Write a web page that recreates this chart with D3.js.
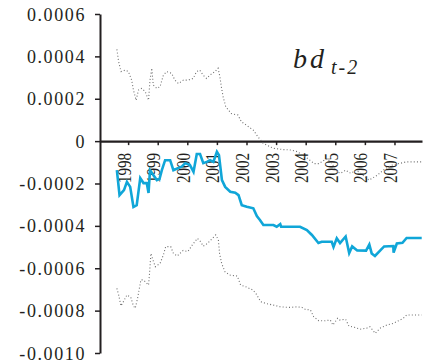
<!DOCTYPE html>
<html>
<head>
<meta charset="utf-8">
<script src="https://cdn.jsdelivr.net/npm/d3@7"></script>
<style>
  html, body { margin: 0; padding: 0; background: #fff; }
</style>
</head>
<body>
<svg id="chart" width="425" height="362"></svg>
<script>
// Time-varying coefficient of bd(t-2) with its confidence bands (decimal years).
const estDates = [1997.62,1997.71,1997.86,1997.96,1998.07,1998.18,1998.29,1998.41,1998.52,1998.63,1998.69,1998.74,1998.85,1998.97,1999.06,1999.14,1999.25,1999.42,1999.53,1999.70,1999.81,1999.93,2000.09,2000.21,2000.32,2000.43,2000.54,2000.66,2000.77,2000.88,2001.00,2001.07,2001.17,2001.28,2001.45,2001.62,2001.73,2001.84,2002.01,2002.23,2002.35,2002.46,2002.57,2002.91,2003.02,2003.14,2003.17,2003.81,2004.04,2004.21,2004.43,2004.54,2004.88,2004.94,2005.05,2005.16,2005.35,2005.47,2005.57,2005.74,2006.04,2006.15,2006.23,2006.34,2006.53,2006.65,2006.96,2006.97,2007.08,2007.27,2007.41,2007.92];
const estimate = [-0.000137,-0.000255,-0.000231,-0.000192,-0.000216,-0.000311,-0.000302,-0.000175,-0.000198,-0.000198,-0.000245,-0.000137,-0.000160,-0.000184,-0.000179,-0.000137,-0.000090,-0.000090,-0.000137,-0.000127,-0.000121,-0.000104,-0.000113,-0.000145,-0.000061,-0.000061,-0.000104,-0.000098,-0.000090,-0.000098,-0.000050,-0.000066,-0.000184,-0.000216,-0.000239,-0.000243,-0.000255,-0.000302,-0.000310,-0.000317,-0.000354,-0.000373,-0.000396,-0.000396,-0.000404,-0.000392,-0.000404,-0.000404,-0.000420,-0.000443,-0.000481,-0.000475,-0.000475,-0.000499,-0.000459,-0.000481,-0.000450,-0.000528,-0.000497,-0.000516,-0.000517,-0.000488,-0.000530,-0.000542,-0.000514,-0.000497,-0.000495,-0.000526,-0.000483,-0.000480,-0.000457,-0.000457];

const upperDates = [1997.62,1997.68,1997.76,1997.90,1998.01,1998.12,1998.18,1998.27,1998.35,1998.46,1998.58,1998.69,1998.74,1998.80,1998.85,1998.97,1999.08,1999.19,1999.30,1999.47,1999.58,1999.70,1999.87,2000.03,2000.20,2000.31,2000.42,2000.54,2000.65,2000.76,2000.93,2001.04,2001.10,2001.15,2001.21,2001.30,2001.49,2001.71,2001.83,2002.00,2002.23,2002.39,2002.57,2002.91,2003.25,2003.52,2003.72,2003.89,2004.00,2004.29,2004.45,2004.62,2004.68,2004.85,2005.07,2005.18,2005.35,2005.52,2005.70,2005.86,2006.14,2006.42,2006.70,2006.93,2007.15,2007.40,2007.92];
const upper = [0.000433,0.000375,0.000328,0.000335,0.000328,0.000288,0.000241,0.000193,0.000241,0.000249,0.000233,0.000193,0.000288,0.000344,0.000265,0.000249,0.000257,0.000311,0.000328,0.000320,0.000288,0.000272,0.000288,0.000288,0.000296,0.000328,0.000335,0.000311,0.000296,0.000311,0.000328,0.000344,0.000304,0.000257,0.000209,0.000162,0.000130,0.000123,0.000091,0.000075,0.000052,0.000020,-0.000011,-0.000034,-0.000040,-0.000042,-0.000050,-0.000066,-0.000075,-0.000106,-0.000106,-0.000090,-0.000083,-0.000098,-0.000145,-0.000152,-0.000137,-0.000152,-0.000137,-0.000152,-0.000184,-0.000161,-0.000128,-0.000113,-0.000106,-0.000098,-0.000098];

const lowerDates = [1997.62,1997.68,1997.76,1997.87,1997.96,1998.09,1998.18,1998.24,1998.32,1998.38,1998.43,1998.52,1998.69,1998.72,1998.77,1998.84,1998.92,1999.08,1999.19,1999.27,1999.44,1999.53,1999.66,1999.86,2000.02,2000.17,2000.34,2000.45,2000.54,2000.68,2000.79,2000.96,2001.05,2001.09,2001.16,2001.27,2001.43,2001.69,2001.80,2001.97,2002.22,2002.33,2002.48,2002.65,2002.91,2003.14,2003.42,2003.71,2003.88,2003.99,2004.16,2004.27,2004.44,2004.66,2004.83,2004.92,2005.08,2005.14,2005.35,2005.46,2005.66,2005.83,2006.06,2006.17,2006.26,2006.35,2006.51,2006.74,2006.96,2007.19,2007.30,2007.41,2007.69,2007.92];
const lower = [-0.000695,-0.000726,-0.000778,-0.000750,-0.000726,-0.000737,-0.000778,-0.000789,-0.000742,-0.000695,-0.000655,-0.000655,-0.000679,-0.000632,-0.000530,-0.000561,-0.000593,-0.000577,-0.000538,-0.000498,-0.000498,-0.000530,-0.000542,-0.000516,-0.000521,-0.000490,-0.000459,-0.000475,-0.000496,-0.000483,-0.000467,-0.000443,-0.000467,-0.000530,-0.000577,-0.000616,-0.000632,-0.000637,-0.000679,-0.000687,-0.000703,-0.000722,-0.000758,-0.000766,-0.000774,-0.000782,-0.000785,-0.000782,-0.000785,-0.000794,-0.000797,-0.000829,-0.000848,-0.000848,-0.000844,-0.000868,-0.000836,-0.000844,-0.000841,-0.000873,-0.000879,-0.000888,-0.000883,-0.000876,-0.000891,-0.000907,-0.000883,-0.000868,-0.000860,-0.000844,-0.000836,-0.000821,-0.000821,-0.000821];

const yTicks = [0.0006, 0.0004, 0.0002, 0, -0.0002, -0.0004, -0.0006, -0.0008, -0.0010];
const yTickLabels = ["0.0006", "0.0004", "0.0002", "0", "-0.0002", "-0.0004", "-0.0006", "-0.0008", "-0.0010"];
const yearTicks = [1998, 1999, 2000, 2001, 2002, 2003, 2004, 2005, 2006, 2007];

const svg = d3.select("#chart");
const ink = "#231f20";
const serif = '"Liberation Serif"';

const x = d3.scaleLinear().domain([1997.05, 2007.93]).range([100, 422]);
const y = d3.scaleLinear().domain([-0.0010, 0.0006]).range([353, 14]);

// y axis
const yAxis = svg.append("g")
  .attr("transform", `translate(${x.range()[0]},0)`)
  .call(d3.axisLeft(y).tickValues(yTicks).tickSize(5).tickSizeOuter(0)
    .tickFormat((d, i) => yTickLabels[i]));
yAxis.select(".domain").attr("stroke", ink).attr("stroke-width", 2);
yAxis.selectAll(".tick line").attr("stroke", ink).attr("stroke-width", 1.5);
yAxis.selectAll(".tick text")
  .attr("x", -14).attr("dy", null).attr("y", 6)
  .attr("text-anchor", "end")
  .style("font-family", serif)
  .style("font-size", "18px")
  .style("letter-spacing", "1.6px")
  .attr("fill", ink);

// x axis along the zero line
const xAxis = svg.append("g")
  .attr("transform", `translate(0,${y(0)})`)
  .call(d3.axisBottom(x).tickValues(yearTicks).tickSize(4).tickSizeOuter(0)
    .tickFormat(d3.format("d")));
xAxis.select(".domain").attr("stroke", ink).attr("stroke-width", 2.2);
xAxis.selectAll(".tick line").attr("stroke", ink).attr("stroke-width", 1.5);
xAxis.selectAll(".tick text")
  .attr("y", null).attr("dy", null)
  .attr("text-anchor", "end")
  .style("font-family", serif)
  .style("font-size", "15px")
  .attr("fill", ink)
  .attr("transform", "translate(2,12) rotate(-90) scale(1,1.25)");

const line = d3.line().x(d => x(d[0])).y(d => y(d[1]));

// confidence bands
[[upperDates, upper], [lowerDates, lower]].forEach(([ds, vs]) => {
  svg.append("path")
    .datum(d3.zip(ds, vs))
    .attr("d", line)
    .attr("fill", "none")
    .attr("stroke", "#6f6f6f")
    .attr("stroke-width", 1.1)
    .attr("stroke-dasharray", "1 2.2");
});

// point estimate
svg.append("path")
  .datum(d3.zip(estDates, estimate))
  .attr("d", line)
  .attr("fill", "none")
  .attr("stroke", "#10a6d8")
  .attr("stroke-width", 2.6)
  .attr("stroke-linejoin", "miter");

// variable label
const t = svg.append("text")
  .attr("x", 293).attr("y", 68)
  .style("font-family", serif)
  .style("font-style", "italic")
  .style("font-size", "28px")
  .style("letter-spacing", "3px")
  .attr("fill", ink);
t.append("tspan").text("bd");
t.append("tspan").style("font-size", "20px").style("letter-spacing", "2px")
  .attr("dx", 4).attr("dy", 6).text("t-2");
</script>
</body>
</html>
